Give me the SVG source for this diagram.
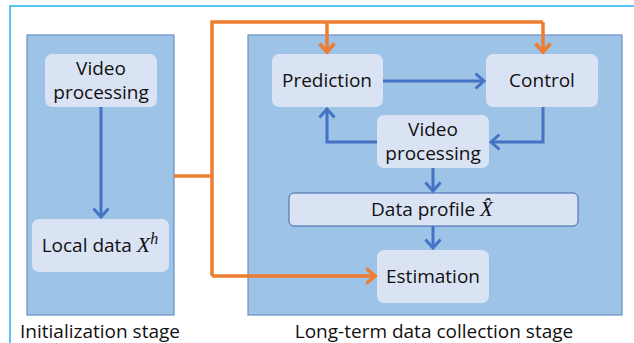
<svg xmlns="http://www.w3.org/2000/svg" width="634" height="343" viewBox="0 0 634 343">
<style>
.panel{fill:#9DC3E6;stroke:#6A8FC4;stroke-width:1.2}
.box{fill:#DAE3F3;stroke:none}
.boxb{fill:#DAE3F3;stroke:#3F64A8;stroke-width:1}
.t{font-family:"Open Sans",sans-serif;font-size:19px;fill:#111;text-anchor:middle}
.m{font-family:"Liberation Serif",serif;font-style:italic}
.blue{fill:none;stroke:#4472C4;stroke-width:3}
.orange{fill:none;stroke:#ED7D31;stroke-width:3.5}
</style>
<defs>
<marker id="ab" markerUnits="userSpaceOnUse" markerWidth="20" markerHeight="20" refX="10" refY="10" orient="auto" viewBox="0 0 20 20">
<path d="M1.5,2.5 L10,10 L1.5,17.5" fill="none" stroke="#4472C4" stroke-width="3"/>
</marker>
<marker id="ao" markerUnits="userSpaceOnUse" markerWidth="20" markerHeight="20" refX="10" refY="10" orient="auto" viewBox="0 0 20 20">
<path d="M1.5,2.5 L10,10 L1.5,17.5" fill="none" stroke="#ED7D31" stroke-width="3.5"/>
</marker>
</defs>
<path d="M10,343 L10,6 L634,6" fill="none" stroke="#1EB4F0" stroke-width="1.5"/>
<g id="init-stage">
<rect class="panel" x="27" y="35" width="147" height="280"/>
<text class="t" x="100" y="338">Initialization stage</text>
</g>
<g id="long-term-stage">
<rect class="panel" x="248" y="35" width="374" height="280"/>
<text class="t" x="434" y="338">Long-term data collection stage</text>
</g>
<g id="video-processing-init">
<rect class="box" x="45" y="54" width="112" height="53" rx="7"/>
<text class="t" x="101" y="75">Video</text>
<text class="t" x="101" y="99">processing</text>
</g>
<g id="local-data">
<rect class="box" x="32" y="219" width="137" height="53" rx="7"/>
<text class="t" x="100" y="252">Local data <tspan class="m" font-size="22">X</tspan><tspan class="m" font-size="16" dy="-8">h</tspan></text>
</g>
<g id="prediction">
<rect class="box" x="272" y="54" width="111" height="53" rx="7"/>
<text class="t" x="327" y="87">Prediction</text>
</g>
<g id="control">
<rect class="box" x="486" y="54" width="112" height="53" rx="7"/>
<text class="t" x="542" y="87">Control</text>
</g>
<g id="video-processing">
<rect class="box" x="377" y="115" width="112" height="53" rx="7"/>
<text class="t" x="433" y="136">Video</text>
<text class="t" x="433" y="160">processing</text>
</g>
<g id="data-profile">
<rect class="boxb" x="289" y="193" width="289" height="33" rx="5"/>
<text class="t" x="432" y="216">Data profile <tspan class="m" font-size="21">X̂</tspan></text>
</g>
<g id="estimation">
<rect class="box" x="377" y="250" width="112" height="53" rx="7"/>
<text class="t" x="433" y="283">Estimation</text>
</g>
<g id="connectors">
<path class="blue" d="M101,107 L101,217" marker-end="url(#ab)"/>
<path class="blue" d="M383,81 L484,81" marker-end="url(#ab)"/>
<path class="blue" d="M543,107 L543,142 L491,142" marker-end="url(#ab)"/>
<path class="blue" d="M377,142 L327,142 L327,109" marker-end="url(#ab)"/>
<path class="blue" d="M433,168 L433,191" marker-end="url(#ab)"/>
<path class="blue" d="M433,226 L433,248" marker-end="url(#ab)"/>
<path class="orange" d="M174,176 L212,176"/>
<path class="orange" d="M212,276 L212,22 L543,22"/>
<path class="orange" d="M327,22 L327,52" marker-end="url(#ao)"/>
<path class="orange" d="M543,22 L543,52" marker-end="url(#ao)"/>
<path class="orange" d="M212,276 L375,276" marker-end="url(#ao)"/>
</g>
</svg>
